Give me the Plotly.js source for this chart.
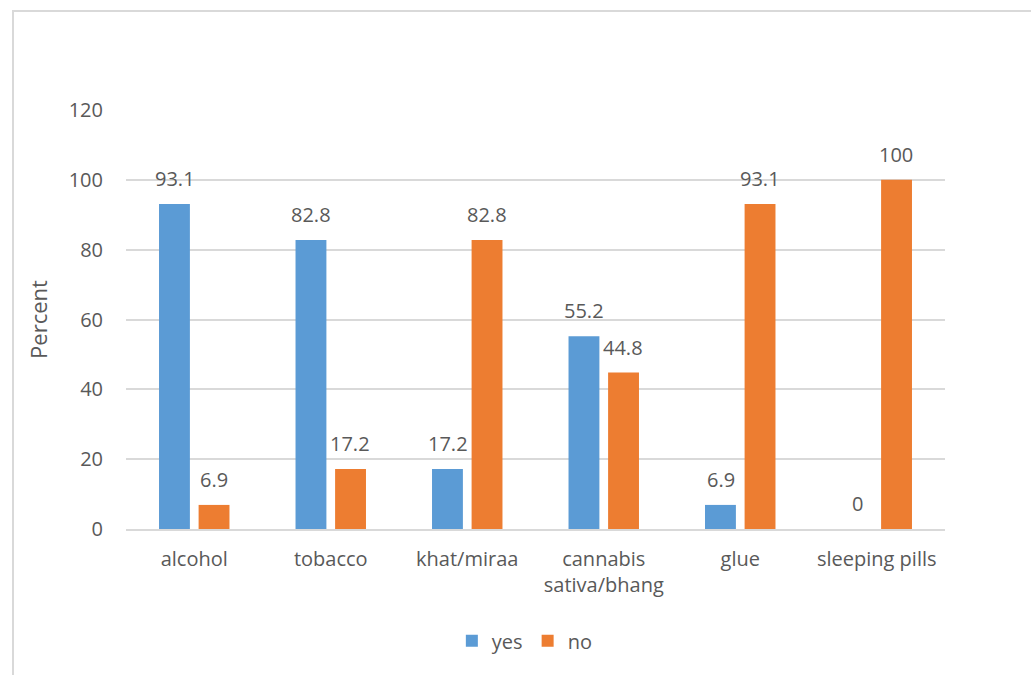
<!DOCTYPE html>
<html>
<head>
<meta charset="utf-8">
<script src="https://cdn.plot.ly/plotly-3.0.1.min.js"></script>
<style>
  html, body { margin: 0; padding: 0; background: #ffffff; overflow: hidden; }
  #chart { position: absolute; left: 0; top: 0; width: 1031px; height: 675px; }
  #frame { position: absolute; left: 12px; top: 10px; width: 1100px; height: 800px;
           border: 2px solid #d9d9d9; pointer-events: none; }
</style>
</head>
<body>
<div id="chart"></div>
<div id="frame"></div>
<script>
const categories = ["alcohol", "tobacco", "khat/miraa", "cannabis<br>sativa/bhang", "glue", "sleeping pills"];
const yesValues = [93.1, 82.8, 17.2, 55.2, 6.9, 0];
const noValues = [6.9, 17.2, 82.8, 44.8, 93.1, 100];
const yTicks = [0, 20, 40, 60, 80, 100, 120];

const FONT = "'Open Sans', 'Noto Sans', sans-serif";
const TXT = "#595959";
const BLUE = "#5B9BD5";
const ORANGE = "#ED7D31";

const traces = [
  { type: "bar", name: "yes", x: categories, y: yesValues, marker: { color: BLUE }, hoverinfo: "x+y" },
  { type: "bar", name: "no", x: categories, y: noValues, marker: { color: ORANGE }, hoverinfo: "x+y" }
];

const annotations = [];
const series = [[yesValues, -19.5], [noValues, 19.5]];
series.forEach(([vals, shift]) => {
  vals.forEach((v, i) => {
    annotations.push({
      x: categories[i], y: v, xref: "x", yref: "y",
      text: String(v), showarrow: false,
      xanchor: "center", yanchor: "bottom",
      xshift: shift, yshift: 10,
      font: { family: FONT, size: 20, color: TXT }
    });
  });
});

const layout = {
  width: 1031, height: 675,
  paper_bgcolor: "rgba(0,0,0,0)", plot_bgcolor: "#ffffff",
  margin: { l: 126, r: 86, t: 110, b: 146 },
  font: { family: FONT, size: 20, color: TXT },
  barmode: "group",
  bargap: 0.42,
  bargroupgap: 0.22,
  showlegend: true,
  legend: {
    orientation: "h", x: 0.487, xanchor: "center", y: -0.267, yanchor: "middle",
    font: { family: FONT, size: 20, color: TXT }, itemwidth: 30, traceorder: "normal"
  },
  xaxis: {
    type: "category", showgrid: false, zeroline: false,
    showline: true, linecolor: "#d9d9d9", linewidth: 2,
    ticks: "outside", ticklen: 11, tickcolor: "rgba(0,0,0,0)",
    tickfont: { family: FONT, size: 20, color: TXT }
  },
  yaxis: {
    range: [0, 120], tickvals: yTicks, ticktext: yTicks.map(String),
    showgrid: true, gridcolor: "#d9d9d9", gridwidth: 2,
    zeroline: false, showline: false,
    ticks: "outside", ticklen: 18, tickcolor: "rgba(0,0,0,0)",
    tickfont: { family: FONT, size: 20, color: TXT },
    title: { text: "Percent", font: { family: FONT, size: 22, color: TXT }, standoff: 14 },
    automargin: false
  },
  annotations: annotations
};

Plotly.newPlot("chart", traces, layout, { displayModeBar: false, staticPlot: true });
</script>
</body>
</html>
